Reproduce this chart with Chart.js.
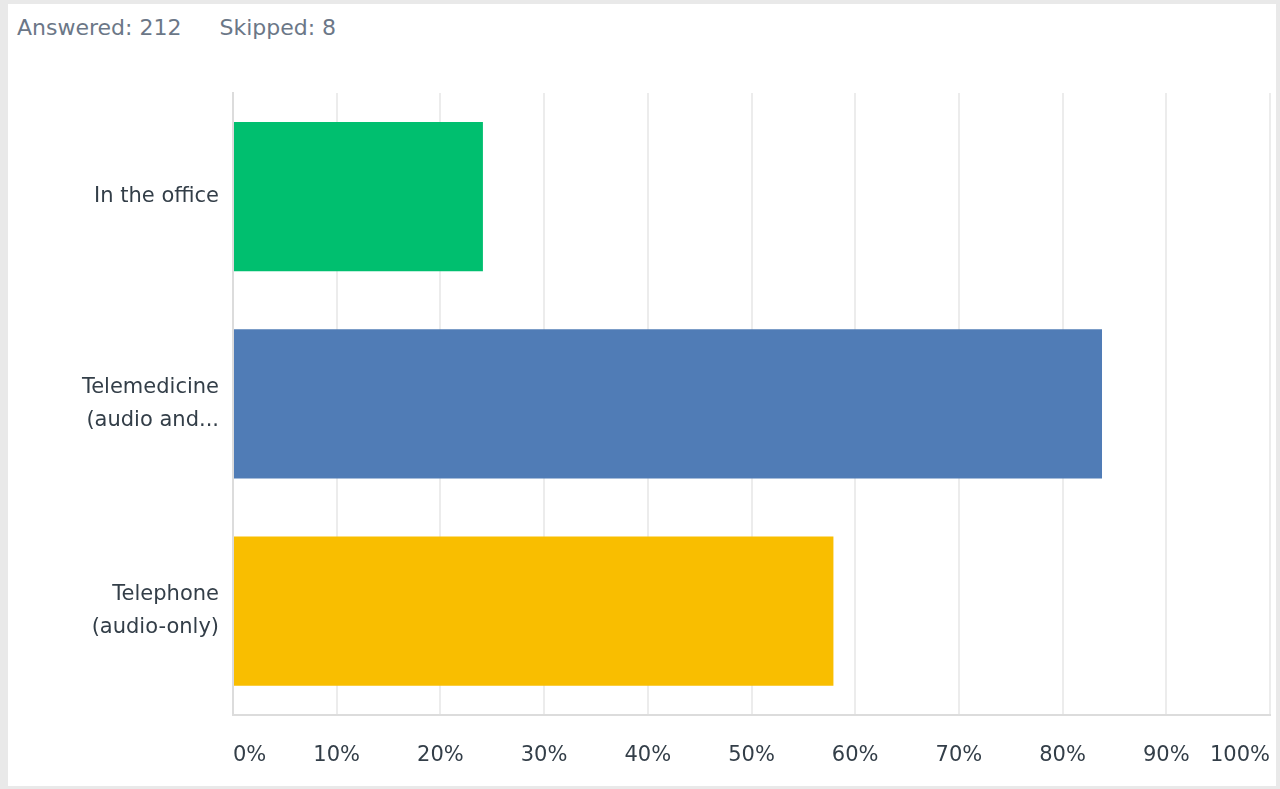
<!DOCTYPE html>
<html>
<head>
<meta charset="utf-8">
<script src="https://cdn.jsdelivr.net/npm/chart.js@4"></script>
<style>
    html, body { margin: 0; padding: 0; }
    body { width: 1280px; height: 789px; background: #e9e9e9; position: relative; overflow: hidden; }
    #panel { position: absolute; left: 8px; top: 4px; width: 1268px; height: 782px; background: #fff; }
    #summary { position: absolute; left: 9px; top: 11px; font-family: "DejaVu Sans", sans-serif; font-size: 22px; color: #6b7787; white-space: pre; }
    #summary span { margin-right: 38px; }
    #chartBox { position: absolute; left: 0; top: 0; width: 1268px; height: 768px; }
</style>
</head>
<body>
<div id="panel">
    <div id="summary"><span>Answered: 212</span>Skipped: 8</div>
    <div id="chartBox"><canvas id="answerChart"></canvas></div>
</div>
<script>
var categories = [['In the office'], ['Telemedicine', '(audio and...'], ['Telephone', '(audio-only)']];
var percents = [24.1, 83.8, 57.9];
var barColors = ['#00bf6f', '#507cb6', '#f9be00'];
var tickValues = [0, 10, 20, 30, 40, 50, 60, 70, 80, 90, 100];

var answerChart;

function drawChart() {
    const $canvas = document.querySelector("#answerChart");

    answerChart = new Chart($canvas, {
        type: 'bar',
        data: {
            labels: categories,
            datasets: [{
                data: percents,
                backgroundColor: barColors,
                borderWidth: 0,
                barPercentage: 0.72,
                categoryPercentage: 1
            }]
        },
        options: {
            indexAxis: 'y',
            responsive: true,
            maintainAspectRatio: false,
            animation: false,
            layout: {
                autoPadding: false,
                padding: { top: 89, right: 6, bottom: 0, left: 0 }
            },
            plugins: {
                legend: { display: false },
                tooltip: { enabled: false }
            },
            scales: {
                x: {
                    min: 0,
                    max: 100,
                    afterBuildTicks: function (scale) {
                        scale.ticks = tickValues.map(function (v) { return { value: v }; });
                    },
                    grid: {
                        color: '#ececec',
                        lineWidth: 2,
                        drawTicks: true,
                        tickLength: 24,
                        tickColor: 'rgba(0,0,0,0)'
                    },
                    border: { color: '#dcdcdc', width: 2 },
                    ticks: {
                        align: 'inner',
                        padding: 4,
                        color: '#333e48',
                        font: { family: 'DejaVu Sans', size: 21 },
                        callback: function (v) { return v + '%'; }
                    }
                },
                y: {
                    afterFit: function (scale) {
                        scale.width = 225;
                    },
                    grid: { display: false, drawTicks: false },
                    border: { color: '#dcdcdc', width: 2 },
                    ticks: {
                        padding: 14,
                        color: '#333e48',
                        font: { family: 'DejaVu Sans', size: 21, lineHeight: 1.55 }
                    }
                }
            }
        }
    });
}

drawChart();
</script>
</body>
</html>
